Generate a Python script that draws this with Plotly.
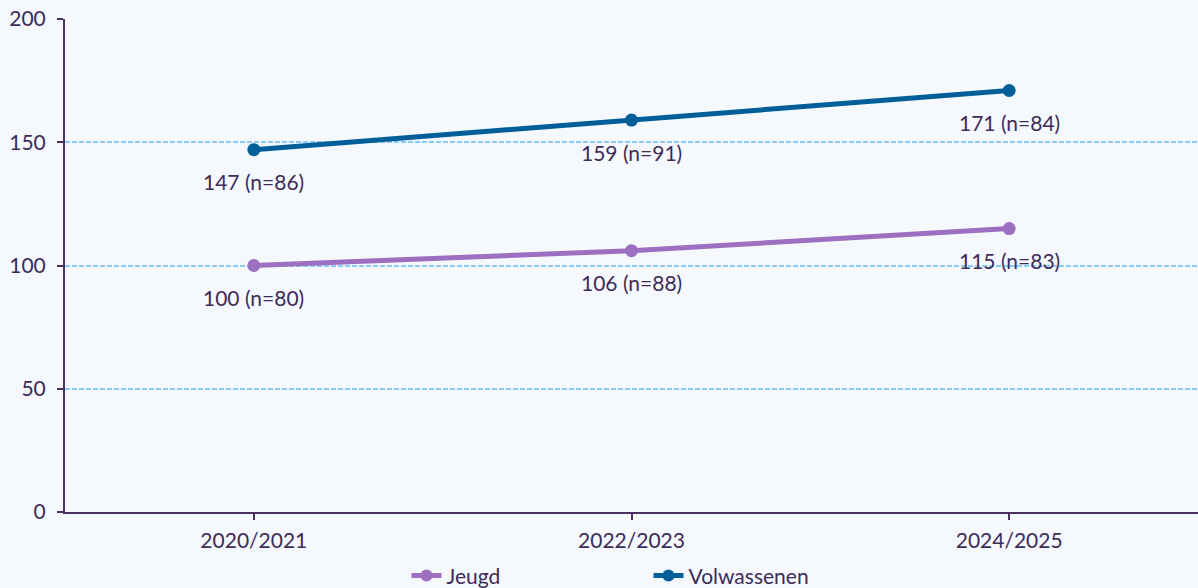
import plotly.graph_objects as go

categories = ["2020/2021", "2022/2023", "2024/2025"]
jeugd = [100, 106, 115]
jeugd_n = [80, 88, 83]
volw = [147, 159, 171]
volw_n = [86, 91, 84]
y_ticks = [0, 50, 100, 150, 200]

text_color = "#3e2b57"
axis_color = "#4b3263"
bg = "#f5f8fd"
grid = "#88cdf8"
FS = 21

fig = go.Figure()
series = [("Jeugd", jeugd, jeugd_n, "#9d6fc1"), ("Volwassenen", volw, volw_n, "#005f98")]
for name, vals, ns, col in series:
    fig.add_trace(go.Scatter(
        x=categories, y=vals, name=name, mode="lines+markers",
        line=dict(color=col, width=5), marker=dict(color=col, size=13),
        hoverinfo="skip",
    ))
    for c, v, n in zip(categories, vals, ns):
        fig.add_annotation(x=c, y=v, text=f"{v} (n={n})", showarrow=False,
                           yshift=-32, font=dict(size=FS, color=text_color))

fig.update_layout(
    width=1198, height=588,
    margin=dict(l=65, r=0, t=19, b=76, autoexpand=False),
    paper_bgcolor=bg, plot_bgcolor=bg,
    font=dict(family="Lato", size=FS, color=text_color),
    showlegend=True,
    legend=dict(orientation="h", x=0.515, xanchor="center", y=-0.088, yanchor="top",
                entrywidth=197, entrywidthmode="pixels", font=dict(size=FS, color=text_color),
                bgcolor="rgba(0,0,0,0)", tracegroupgap=0, itemsizing="constant"),
    xaxis=dict(type="category", range=[-0.5, 2.5], showgrid=False, automargin=False,
               showline=True, linecolor=axis_color, linewidth=2,
               ticks="outside", ticklen=6, tickcolor=axis_color, tickwidth=2,
               ticklabelstandoff=3,
               tickfont=dict(size=FS, color=text_color), fixedrange=True),
    yaxis=dict(range=[0, 200], tickvals=y_ticks, showgrid=True, gridcolor=grid,
               griddash="5px,2px", gridwidth=1.5, zeroline=False, automargin=False,
               showline=True, linecolor=axis_color, linewidth=2,
               ticks="outside", ticklen=6, tickcolor=axis_color, tickwidth=2,
               ticklabelstandoff=7,
               tickfont=dict(size=FS, color=text_color), fixedrange=True),
)

fig.write_html(
    "out.html",
    config={"responsive": False, "displayModeBar": False},
    post_script="document.body.style.margin='0';document.body.style.overflow='hidden';",
)
